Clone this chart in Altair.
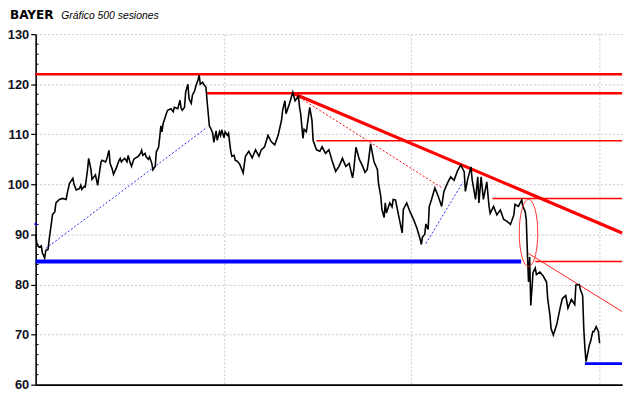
import altair as alt
import pandas as pd

# ---------------- data ----------------
title_main = "BAYER"
title_sub = "Gráfico 500 sesiones"

sessions = [0, 1, 2, 3, 5, 6, 8, 9, 11, 12, 14, 15, 17, 18, 21, 24, 27, 28, 30, 33,
            34, 36, 39, 40, 41, 43, 44, 46, 47, 49, 50, 52, 53, 55, 56, 58, 59, 62, 63, 65,
            66, 68, 69, 71, 72, 74, 75, 76, 78, 79, 81, 82, 84, 85, 87, 88, 91, 93, 94, 95,
            97, 98, 100, 101, 103, 104, 106, 107, 109, 110, 111, 112, 113, 114, 116, 117, 120, 122, 123, 126,
            128, 129, 130, 132, 133, 135, 136, 138, 139, 141, 142, 144, 145, 146, 148, 149, 151, 152, 154, 155,
            157, 158, 160, 161, 163, 164, 165, 167, 168, 170, 171, 173, 174, 176, 177, 179, 181, 184, 186, 189,
            192, 195, 198, 200, 203, 206, 209, 212, 215, 218, 219, 221, 222, 225, 228, 230, 233, 234, 235, 237,
            238, 240, 241, 243, 245, 246, 249, 252, 254, 257, 260, 263, 266, 269, 272, 275, 278, 281, 282, 284,
            287, 290, 292, 294, 295, 297, 300, 303, 304, 306, 307, 309, 310, 311, 314, 316, 317, 319, 322, 325,
            326, 329, 332, 335, 338, 341, 342, 343, 345, 346, 348, 349, 351, 354, 357, 360, 362, 365, 368, 371,
            374, 377, 380, 381, 383, 386, 387, 390, 392, 393, 395, 397, 400, 402, 403, 406, 409, 412, 415, 418,
            421, 424, 425, 428, 431, 432, 434, 435, 436, 437, 438, 439, 441, 443, 444, 447, 450, 453, 454, 456,
            457, 459, 462, 465, 467, 470, 472, 475, 478, 479, 482, 483, 485, 486, 487, 488, 491, 492, 494, 495,
            497, 499, 500]
closes = [90, 88.3, 87.7, 87.5, 87.7, 86.3, 85.3, 86.8, 87, 89, 92.3, 94, 94.5, 96.3, 97, 97.2, 97, 98.2, 100.2, 101.2,
          100, 98.9, 99.2, 99.8, 99, 99.6, 99.5, 102.9, 105.2, 103, 101, 101.6, 101.9, 99.8, 101.5, 104.5, 104.8, 104.5, 105, 106.8,
          104.2, 103, 102, 103, 103.6, 104.8, 105.2, 104.5, 105, 105.2, 104.5, 105.8, 104.2, 103.6, 105, 105.2, 105.6, 106.2, 106.8, 105.8,
          106.2, 105.5, 105, 105.5, 104.2, 102.9, 103.6, 106.5, 107.4, 109.4, 111.7, 110.5, 112.1, 112.8, 114.2, 114.8, 115.1, 114.5, 115.4, 115.1,
          116.8, 115.2, 114.8, 115.4, 118.4, 120, 117.1, 116.2, 117.8, 118.7, 119.6, 120.9, 121.8, 120, 120.4, 120, 119.4, 116.7, 111.7, 111.3,
          110.2, 108.4, 110.7, 108.8, 110.5, 109.8, 110.9, 109.3, 110.5, 109.8, 110.2, 106.6, 105.6, 105.8, 104.8, 104.6, 104, 102.3, 105.6, 106.6,
          105.3, 106.9, 105.6, 106.9, 107.5, 109.8, 108.5, 107.9, 109.8, 112.8, 114.8, 116.7, 114.1, 116.1, 118.4, 116.7, 117.6, 115.4, 114.1, 109.2,
          111, 110.5, 112.1, 115.4, 112.8, 108.8, 106.9, 106.6, 107.5, 106.2, 106.9, 104.6, 102.6, 103.6, 105.2, 103.6, 104.2, 101.3, 102.8, 107.4,
          105, 103.6, 102.4, 103, 104.5, 108.1, 104.5, 103, 100.2, 97.6, 95, 93.4, 96.3, 94.3, 96.3, 95.5, 97, 96.9, 93.6, 90.3,
          95, 96.3, 94.5, 93, 91.3, 89, 88, 89.5, 90, 92.1, 91, 95.6, 97, 99.3, 97.6, 95.6, 98.6, 100.2, 101.5, 100.8,
          102.7, 103.9, 102.5, 98.6, 101, 103.5, 101, 97, 101.5, 96.3, 101.5, 97, 100.5, 95.6, 94.2, 95.6, 93.9, 94.9, 93, 92.6,
          92, 93.9, 96, 95.6, 96.9, 95.6, 94.6, 93, 86.4, 80.5, 85.5, 75.8, 82.4, 83.3, 82, 82.5, 81.7, 80.5, 77.2, 73.9,
          71.2, 69.9, 72, 75.3, 77.2, 77.8, 75.3, 77, 76, 79.9, 80, 79, 77.8, 71.2, 67.3, 64.6, 68, 68.6, 70.6, 70.6,
          71.6, 70.6, 68.3]

# horizontal red levels: value, start session, stroke width
red_level_values = [122.0, 118.2, 108.7, 97.2, 84.6]
red_level_starts = [0, 151, 249, 405, 443]
red_level_widths = [2.6, 2.6, 1.6, 1.5, 1.5]

# horizontal blue supports: value, start, end, width
blue_level_values = [84.6, 64.2]
blue_level_starts = [0, 487]
blue_level_ends = [430.5, 520]
blue_level_widths = [4, 3]

# trend lines (start session, start value, end session, end value)
red_trend_thick = [228, 118.2, 520, 90.3]
red_trend_dotted = [228, 118.2, 361, 99.2]
red_trend_thin = [437, 86.2, 520, 74.6]
blue_trend_1 = [9, 87.2, 152, 111.4]
blue_trend_2 = [346, 88.2, 379, 100.5]

# circled gap
ellipse_session = 437
ellipse_value = 90.3

marker_session = 0
marker_value = 92.1

x_grid_sessions = [167, 333, 500]
y_major = [60, 70, 80, 90, 100, 110, 120, 130]
y_minor = [v for v in range(62, 130, 2) if v % 10 != 0]

X_DOMAIN = [0, 520]
Y_DOMAIN = [60, 130]

# ---------------- chart ----------------
xs = alt.Scale(domain=X_DOMAIN, nice=False, zero=False)
ys = alt.Scale(domain=Y_DOMAIN, nice=False, zero=False)

price_df = pd.DataFrame({"s": sessions, "v": closes})

base_axes = alt.Chart(price_df).mark_line(color="black", strokeWidth=1.6, strokeJoin="miter").encode(
    x=alt.X("s:Q", scale=xs, title=None,
            axis=alt.Axis(values=x_grid_sessions, labels=False, ticks=False, domain=True,
                          domainColor="black", domainWidth=1.6, grid=True,
                          gridColor="#c9c6d6", gridDash=[2, 2], gridWidth=1)),
    y=alt.Y("v:Q", scale=ys, title=None,
            axis=alt.Axis(values=y_major, labelFont="Liberation Sans", labelFontWeight="bold",
                          labelFontSize=13, labelColor="#111122", labelPadding=2,
                          tickColor="black", tickSize=5, tickWidth=1.2,
                          domainColor="black", domainWidth=1.6,
                          grid=True, gridColor="#c9c6d6", gridDash=[2, 2], gridWidth=1)),
)

minor_df = pd.DataFrame({"v": y_minor})
minor_ticks = alt.Chart(minor_df).mark_rule(color="black", strokeWidth=1).encode(
    y=alt.Y("v:Q", scale=ys), x=alt.value(0), x2=alt.value(3)
)

red_df = pd.DataFrame({"v": red_level_values, "s0": red_level_starts,
                       "s1": [X_DOMAIN[1]] * len(red_level_values), "w": red_level_widths})
red_levels = alt.Chart(red_df).mark_rule(color="#ff0000").encode(
    x=alt.X("s0:Q", scale=xs), x2="s1:Q", y=alt.Y("v:Q", scale=ys),
    strokeWidth=alt.StrokeWidth("w:Q", scale=None, legend=None)
)

blue_df = pd.DataFrame({"v": blue_level_values, "s0": blue_level_starts,
                        "s1": blue_level_ends, "w": blue_level_widths})
blue_levels = alt.Chart(blue_df).mark_rule(color="#0000ff").encode(
    x=alt.X("s0:Q", scale=xs), x2="s1:Q", y=alt.Y("v:Q", scale=ys),
    strokeWidth=alt.StrokeWidth("w:Q", scale=None, legend=None)
)


def seg(vals, color, width, dash=None):
    df = pd.DataFrame({"s0": [vals[0]], "v0": [vals[1]], "s1": [vals[2]], "v1": [vals[3]]})
    kw = dict(color=color, strokeWidth=width)
    if dash:
        kw["strokeDash"] = dash
    return alt.Chart(df).mark_rule(**kw).encode(
        x=alt.X("s0:Q", scale=xs), y=alt.Y("v0:Q", scale=ys), x2="s1:Q", y2="v1:Q"
    )


trends = [
    seg(red_trend_thick, "#ff0000", 3.2),
    seg(red_trend_dotted, "#ff0000", 1, [2, 2]),
    seg(red_trend_thin, "#ff2020", 1),
    seg(blue_trend_1, "#2a2aff", 1, [2, 2]),
    seg(blue_trend_2, "#2a2aff", 1, [2, 2]),
]

ellipse_path = ("M 0 -1 C 0.1519 -1 0.275 -0.5523 0.275 0 "
                "C 0.275 0.5523 0.1519 1 0 1 "
                "C -0.1519 1 -0.275 0.5523 -0.275 0 "
                "C -0.275 -0.5523 -0.1519 -1 0 -1 Z")
ell_df = pd.DataFrame({"s": [ellipse_session], "v": [ellipse_value]})
ellipse = alt.Chart(ell_df).mark_point(shape=ellipse_path, size=4624, filled=False,
                                       color="#ff3030", strokeWidth=1, opacity=1).encode(
    x=alt.X("s:Q", scale=xs), y=alt.Y("v:Q", scale=ys)
)

mk_df = pd.DataFrame({"s": [marker_session], "v": [marker_value]})
marker = alt.Chart(mk_df).mark_point(shape="square", size=5, filled=True, color="#0000ff",
                                     opacity=1).encode(
    x=alt.X("s:Q", scale=xs), y=alt.Y("v:Q", scale=ys)
)

t_df = pd.DataFrame({"a": [title_main], "b": [title_sub]})
t_main = alt.Chart(t_df).mark_text(font="DejaVu Sans", fontWeight="bold", fontSize=12.2,
                                   align="left", baseline="alphabetic", color="black").encode(
    text="a:N", x=alt.value(-26), y=alt.value(-15)
)
t_sub = alt.Chart(t_df).mark_text(font="Liberation Sans", fontStyle="italic", fontSize=10.5,
                                  align="left", baseline="alphabetic", color="black").encode(
    text="b:N", x=alt.value(26), y=alt.value(-15.5)
)

chart = alt.layer(
    base_axes.mark_line(opacity=0),
    minor_ticks,
    red_levels,
    blue_levels,
    *trends,
    base_axes,
    ellipse,
    marker,
    t_main,
    t_sub,
).properties(
    width=594, height=355,
    autosize=alt.AutoSizeParams(type="none"),
    padding={"left": 28, "top": 24, "right": 10, "bottom": 11},
    background="white",
).configure_view(stroke=None)

chart.save("out.html", embed_options={"renderer": "svg", "actions": False})
